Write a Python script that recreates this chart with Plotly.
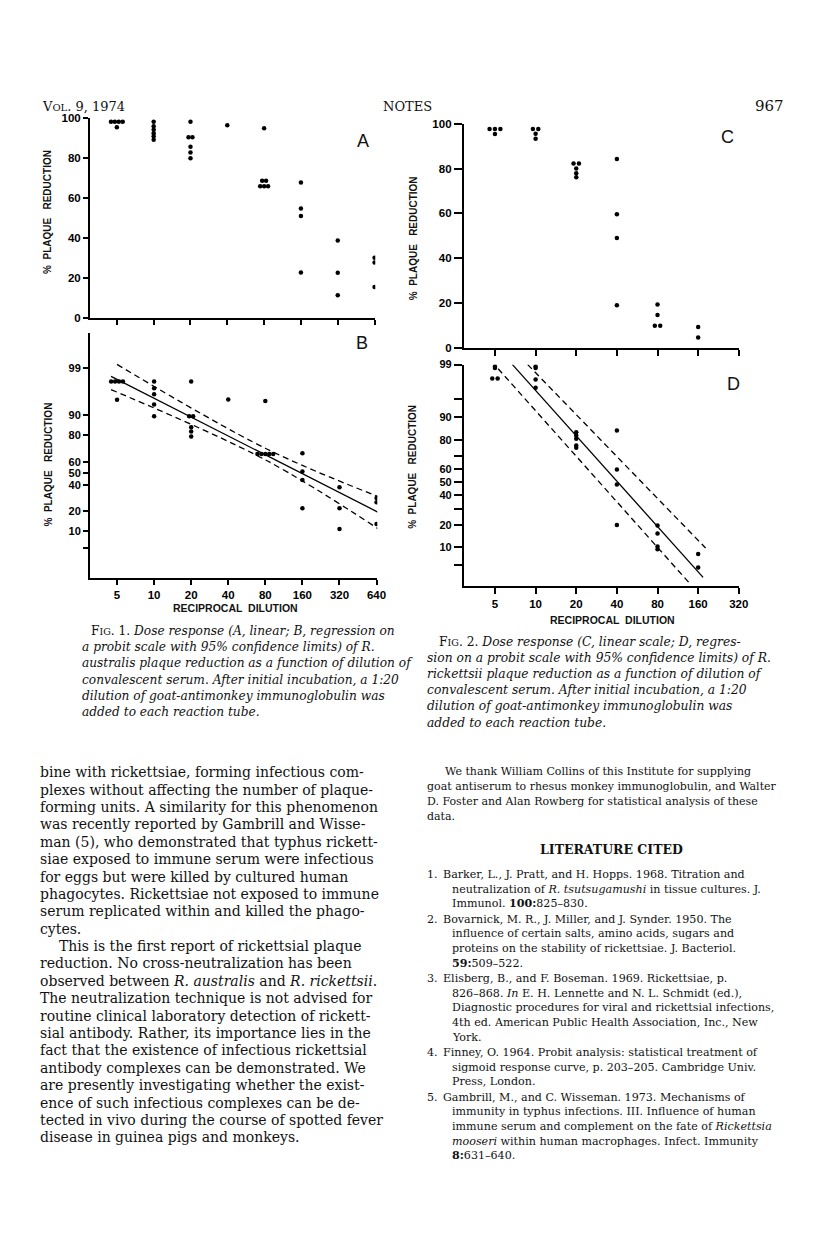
import plotly.graph_objects as go
from statistics import NormalDist
from collections import Counter

# the page adds a margin round the figure and shrinks it a little;
# positions below are in page pixels and get mapped back
OX, OY, S = 8, 14.5, 0.988
W, H = 800, 1229

# ---- data ----
dilutions = [5, 10, 20, 40, 80, 160, 320, 640]
dil_labels = ["5", "10", "20", "40", "80", "160", "320", "640"]
dilutions_c = [5, 10, 20, 40, 80, 160, 320]

# Fig 1A (linear), % plaque reduction
a_dil = [5] * 5 + [10] * 6 + [20] * 6 + [40] + [80] * 6 + [160] * 4 + [320] * 3 + [640] * 3
a_pct = [98, 98, 98, 98, 95.2,
         98, 95.7, 94, 92.3, 90.7, 89,
         98, 90.2, 90.2, 85.5, 82.7, 79.8,
         96.2,
         94.7, 68.5, 68.5, 65.8, 65.8, 65.8,
         67.7, 54.7, 51, 22.8,
         38.8, 22.7, 11.5,
         30.2, 27.8, 15.5]

# Fig 1B (probit)
b_dil = [5] * 5 + [10] * 5 + [20] * 6 + [40] + [80] * 6 + [160] * 4 + [320] * 3 + [640] * 3
b_pct = [97.9, 97.9, 97.9, 97.9, 94.8,
         97.9, 97.0, 96.0, 93.6, 89.7,
         97.9, 89.7, 89.7, 84.6, 82.2, 79.2,
         94.9,
         94.5, 66.6, 66.6, 66.6, 66.6, 66.6,
         67.1, 51.5, 44.2, 21.9,
         37.8, 21.9, 10.9,
         29.3, 26.0, 13.1]
b_fit_dil = [4.47, 703]
b_fit_pct = [98.4, 18.4]
b_up_dil = [5.0, 80, 661]
b_up_pct = [99.2, 71.0, 30.3]
b_lo_dil = [4.47, 80, 682]
b_lo_pct = [96.8, 61.7, 10.5]

# Fig 2C (linear)
c_dil = [5] * 4 + [10] * 4 + [20] * 5 + [40] * 4 + [80] * 4 + [160] * 2
c_pct = [97.6, 97.6, 97.6, 95.4,
         97.6, 97.6, 95.5, 93.3,
         82.2, 82.2, 80.0, 77.9, 76.1,
         84.3, 59.6, 48.9, 18.9,
         19.2, 14.5, 9.7, 9.7,
         9.2, 4.5]

# Fig 2D (probit)
d_dil = [5] * 4 + [10] * 4 + [20] * 5 + [40] * 4 + [80] * 4 + [160] * 2
d_pct = [98.9, 98.8, 98.0, 98.0,
         98.9, 98.8, 97.9, 96.9,
         83.9, 82.2, 80.5, 76.6, 75.2,
         84.7, 59.9, 48.2, 19.9,
         19.6, 15.6, 10.2, 9.3,
         7.8, 4.6]
d_fit_dil = [6.74, 174]
d_fit_pct = [99.0, 3.0]
d_up_dil = [8.74, 181.6]
d_up_pct = [99.0, 9.7]
d_lo_dil = [5.28, 138]
d_lo_pct = [98.76, 2.3]

lin_ticks = [0, 20, 40, 60, 80, 100]
b_ticks = [99, 90, 80, 60, 50, 40, 20, 10, 5]
b_tick_text = ["99", "90", "80", "60", "50", "40", "20", "10", ""]
d_ticks = [99, 95, 90, 80, 70, 60, 50, 40, 30, 20, 10, 5]
d_tick_text = ["99", "", "90", "80", "", "60", "50", "40", "", "20", "10", ""]

probit = NormalDist().inv_cdf


def pz(vals):
    return [probit(v / 100.0) for v in vals]


def spread(dil, pct, step=0.032):
    # put tied points side by side, as on the page
    counts = Counter(zip(dil, pct))
    seen = Counter()
    out = []
    for d, p in zip(dil, pct):
        n = counts[(d, p)]
        k = seen[(d, p)]
        seen[(d, p)] += 1
        out.append(d * 10 ** ((k - (n - 1) / 2) * step))
    return out


def fx(px):
    return (px - OX) / S / W


def fy(py):
    return 1 - (py - OY) / S / H


fig = go.Figure()
dot = dict(color="black", size=4.5)
ln = dict(color="black", width=1.3)
dash = dict(color="black", width=1.3, dash="6px,4px")

fig.add_trace(go.Scatter(x=spread(a_dil, a_pct), y=a_pct, mode="markers", marker=dot,
                         xaxis="x", yaxis="y"))
fig.add_trace(go.Scatter(x=spread(b_dil, b_pct), y=pz(b_pct), mode="markers", marker=dot,
                         xaxis="x2", yaxis="y2"))
fig.add_trace(go.Scatter(x=b_fit_dil, y=pz(b_fit_pct), mode="lines", line=ln, xaxis="x2", yaxis="y2"))
fig.add_trace(go.Scatter(x=b_up_dil, y=pz(b_up_pct), mode="lines", line=dict(dash, shape="spline"),
                         xaxis="x2", yaxis="y2"))
fig.add_trace(go.Scatter(x=b_lo_dil, y=pz(b_lo_pct), mode="lines", line=dict(dash, shape="spline"),
                         xaxis="x2", yaxis="y2"))
fig.add_trace(go.Scatter(x=spread(c_dil, c_pct, 0.04), y=c_pct, mode="markers", marker=dot,
                         xaxis="x3", yaxis="y3"))
fig.add_trace(go.Scatter(x=spread(d_dil, d_pct, 0.04), y=pz(d_pct), mode="markers", marker=dot,
                         xaxis="x4", yaxis="y4"))
fig.add_trace(go.Scatter(x=d_fit_dil, y=pz(d_fit_pct), mode="lines", line=ln, xaxis="x4", yaxis="y4"))
fig.add_trace(go.Scatter(x=d_up_dil, y=pz(d_up_pct), mode="lines", line=dash, xaxis="x4", yaxis="y4"))
fig.add_trace(go.Scatter(x=d_lo_dil, y=pz(d_lo_pct), mode="lines", line=dash, xaxis="x4", yaxis="y4"))

tickfont = dict(family="Liberation Sans", size=11.5, color="black", weight="bold")
axis_common = dict(showline=True, linecolor="black", linewidth=2, ticks="outside",
                   tickcolor="black", tickwidth=1.5, showgrid=False, zeroline=False,
                   tickfont=tickfont, fixedrange=True)
probit_font = dict(tickfont, size=11)

xr1 = [0.480, 2.812]
xr2 = [0.4685, 2.507]

fig.update_layout(
    width=W, height=H, margin=dict(l=0, r=0, t=0, b=0),
    paper_bgcolor="white", plot_bgcolor="white", showlegend=False,
    xaxis=dict(axis_common, type="log", range=xr1, domain=[fx(90), fx(375)], anchor="y",
               tickvals=dilutions, ticktext=dil_labels, showticklabels=False, ticklen=5),
    yaxis=dict(axis_common, range=[0, 100], domain=[fy(318), fy(118)], anchor="x",
               tickvals=lin_ticks, ticklen=5),
    xaxis2=dict(axis_common, type="log", range=xr1, domain=[fx(90), fx(377)], anchor="y2",
                tickvals=dilutions, ticktext=dil_labels, ticklen=5),
    yaxis2=dict(axis_common, range=[probit(0.0104), probit(0.99903)], domain=[fy(577), fy(333)],
                anchor="x2", tickvals=pz(b_ticks), ticktext=b_tick_text, ticklen=5,
                tickfont=probit_font),
    xaxis3=dict(axis_common, type="log", range=xr2, domain=[fx(463.5), fx(738.5)], anchor="y3",
                tickvals=dilutions_c, showticklabels=False, ticklen=6),
    yaxis3=dict(axis_common, range=[0, 100], domain=[fy(347.3), fy(124)], anchor="x3",
                tickvals=lin_ticks, ticklen=8),
    xaxis4=dict(axis_common, type="log", range=xr2, domain=[fx(463.5), fx(738.5)], anchor="y4",
                tickvals=dilutions_c, ticktext=dil_labels[:7], ticklen=6),
    yaxis4=dict(axis_common, range=[probit(0.0197), probit(0.99)], domain=[fy(585.7), fy(364.3)],
                anchor="x4", tickvals=pz(d_ticks), ticktext=d_tick_text, ticklen=8,
                tickfont=probit_font),
)

ann = []
serif = "DejaVu Serif"
sans = "Liberation Sans"


def txt(x, y, s, size=14, family=serif, xanchor="left", color="#111", angle=0, weight="normal"):
    ann.append(dict(x=fx(x), y=fy(y), xref="paper", yref="paper", text=s, showarrow=False,
                    xanchor=xanchor, yanchor="middle", textangle=angle,
                    font=dict(family=family, size=size, color=color, weight=weight)))


# header
txt(40, 107, "V<span style='font-size:10px'>OL</span>. 9, 1974", size=13)
txt(407, 107, "NOTES", size=13, xanchor="center")
txt(785, 106, "967", size=15, xanchor="right")

# panel letters and axis titles
txt(363, 141, "A", size=18, family=sans, xanchor="center")
txt(362, 343, "B", size=18, family=sans, xanchor="center")
txt(727, 137, "C", size=18, family=sans, xanchor="center")
txt(733, 384, "D", size=18, family=sans, xanchor="center")
ytitle = "%  PLAQUE   REDUCTION"
txt(48, 212, ytitle, size=10, family=sans, xanchor="center", angle=-90, weight="bold")
txt(48, 464, ytitle, size=10, family=sans, xanchor="center", angle=-90, weight="bold")
txt(413, 238, ytitle, size=10, family=sans, xanchor="center", angle=-90, weight="bold")
txt(412, 466, ytitle, size=10, family=sans, xanchor="center", angle=-90, weight="bold")
txt(235, 607, "RECIPROCAL  DILUTION", size=10.5, family=sans, xanchor="center", weight="bold")
txt(612, 619, "RECIPROCAL  DILUTION", size=10.5, family=sans, xanchor="center", weight="bold")

# figure captions
sc = "<span style='font-size:9.5px'>IG</span>"
cap1 = ["F" + sc + ". 1. <i>Dose response (A, linear; B, regression on</i>",
        "<i>a probit scale with 95% confidence limits) of R.</i>",
        "<i>australis plaque reduction as a function of dilution of</i>",
        "<i>convalescent serum. After initial incubation, a 1:20</i>",
        "<i>dilution of goat-antimonkey immunoglobulin was</i>",
        "<i>added to each reaction tube.</i>"]
for i, s in enumerate(cap1):
    txt(89 if i == 0 else 80, 630 + i * 16.2, s, size=12.2)
cap2 = ["F" + sc + ". 2. <i>Dose response (C, linear scale; D, regres-</i>",
        "<i>sion on a probit scale with 95% confidence limits) of R.</i>",
        "<i>rickettsii plaque reduction as a function of dilution of</i>",
        "<i>convalescent serum. After initial incubation, a 1:20</i>",
        "<i>dilution of goat-antimonkey immunoglobulin was</i>",
        "<i>added to each reaction tube.</i>"]
for i, s in enumerate(cap2):
    txt(437 if i == 0 else 425, 641 + i * 16.1, s, size=12.3)

# left column body text
body = ["bine with rickettsiae, forming infectious com-",
        "plexes without affecting the number of plaque-",
        "forming units. A similarity for this phenomenon",
        "was recently reported by Gambrill and Wisse-",
        "man (5), who demonstrated that typhus rickett-",
        "siae exposed to immune serum were infectious",
        "for eggs but were killed by cultured human",
        "phagocytes. Rickettsiae not exposed to immune",
        "serum replicated within and killed the phago-",
        "cytes.",
        "This is the first report of rickettsial plaque",
        "reduction. No cross-neutralization has been",
        "observed between <i>R. australis</i> and <i>R. rickettsii</i>.",
        "The neutralization technique is not advised for",
        "routine clinical laboratory detection of rickett-",
        "sial antibody. Rather, its importance lies in the",
        "fact that the existence of infectious rickettsial",
        "antibody complexes can be demonstrated. We",
        "are presently investigating whether the exist-",
        "ence of such infectious complexes can be de-",
        "tected in vivo during the course of spotted fever",
        "disease in guinea pigs and monkeys."]
for i, s in enumerate(body):
    txt(57 if i == 10 else 38, 771 + i * 17.35, s, size=14)

# right column
ack = ["We thank William Collins of this Institute for supplying",
       "goat antiserum to rhesus monkey immunoglobulin, and Walter",
       "D. Foster and Alan Rowberg for statistical analysis of these",
       "data."]
for i, s in enumerate(ack):
    txt(443 if i == 0 else 425, 770 + i * 15, s, size=11)
txt(611, 848, "LITERATURE CITED", size=12.5, xanchor="center", weight="bold")

refs = [["Barker, L., J. Pratt, and H. Hopps. 1968. Titration and",
         "neutralization of <i>R. tsutsugamushi</i> in tissue cultures. J.",
         "Immunol. <b>100:</b>825–830."],
        ["Bovarnick, M. R., J. Miller, and J. Synder. 1950. The",
         "influence of certain salts, amino acids, sugars and",
         "proteins on the stability of rickettsiae. J. Bacteriol.",
         "<b>59:</b>509–522."],
        ["Elisberg, B., and F. Boseman. 1969. Rickettsiae, p.",
         "826–868. <i>In</i> E. H. Lennette and N. L. Schmidt (ed.),",
         "Diagnostic procedures for viral and rickettsial infections,",
         "4th ed. American Public Health Association, Inc., New",
         "York."],
        ["Finney, O. 1964. Probit analysis: statistical treatment of",
         "sigmoid response curve, p. 203–205. Cambridge Univ.",
         "Press, London."],
        ["Gambrill, M., and C. Wisseman. 1973. Mechanisms of",
         "immunity in typhus infections. III. Influence of human",
         "immune serum and complement on the fate of <i>Rickettsia</i>",
         "<i>mooseri</i> within human macrophages. Infect. Immunity",
         "<b>8:</b>631–640."]]
y = 873
for n, ref in enumerate(refs, 1):
    txt(425, y, f"{n}.", size=11.1)
    for j, s in enumerate(ref):
        txt(441 if j == 0 else 450, y, s, size=11.1)
        y += 14.6
    y += 0.8

fig.update_layout(annotations=ann)
fig.write_html("out.html")
